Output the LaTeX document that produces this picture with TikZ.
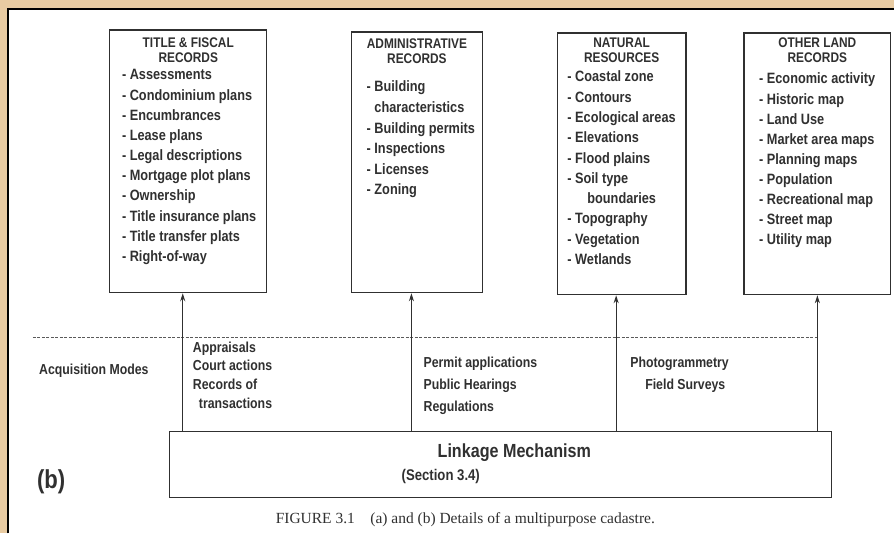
\documentclass[tikz,border=0pt]{standalone}
\usepackage{fontspec}
\setmainfont{Liberation Serif}
\newfontfamily\recfont[FakeStretch=0.85]{Liberation Sans}
\usetikzlibrary{positioning, arrows.meta}
\definecolor{paper}{HTML}{E8CBA2}
\definecolor{ink}{HTML}{303030}

\begin{document}
\begin{tikzpicture}[x=1pt, y=-1pt,
                recbox/.style={draw=ink, line width=1.3pt, inner sep=0pt},
                head/.style={font=\recfont\bfseries\fontsize{14}{15.5}\selectfont, align=center, text=ink, inner sep=0pt},
                items/.style={font=\recfont\bfseries\fontsize{15}{#1}\selectfont, align=left, text=ink, inner sep=0pt, anchor=north west},
                acq/.style={font=\recfont\bfseries\fontsize{14.5}{#1}\selectfont, align=left, text=ink, inner sep=0pt, anchor=north west},
                flow/.style={-{Stealth[length=8pt, width=5pt]}, draw=ink, line width=1.2pt},
            ]

            % Page and frame
            \fill[paper] (0,0) rectangle (895,534);
            \fill[white] (8,9) rectangle (895,534);
            \draw[line width=2.5pt] (8,534) -- (8,9) -- (895,9);

            % Record boxes
            \node[recbox, minimum width=157pt, minimum height=263pt] (title) at (188.5,161.5) {};
            \node[recbox, minimum width=131pt, minimum height=261pt] (admin) at (417.5,162.5) {};
            \node[recbox, minimum width=129pt, minimum height=262pt] (natural) at (622.5,164) {};
            \node[recbox, minimum width=147pt, minimum height=262pt] (other) at (818.5,164) {};

            % Box headings
            \node[head, below=8pt of title.north] (titlehead) {TITLE \& FISCAL\\RECORDS};
            \node[head, below=7pt of admin.north] (adminhead) {ADMINISTRATIVE\\RECORDS};
            \node[head, below=5pt of natural.north] (naturalhead) {NATURAL\\RESOURCES};
            \node[head, below=5pt of other.north] (otherhead) {OTHER LAND\\RECORDS};

            % Box contents
            \node[items=20.2pt] (titlelist) at (122,69.5) {- Assessments\\- Condominium plans\\- Encumbrances\\- Lease plans\\- Legal descriptions\\- Mortgage plot plans\\- Ownership\\- Title insurance plans\\- Title transfer plats\\- Right-of-way};
            \node[items=20.6pt] (adminlist) at (367,81) {- Building\\\phantom{- }characteristics\\- Building permits\\- Inspections\\- Licenses\\- Zoning};
            \node[items=20.3pt] (naturallist) at (568,71) {- Coastal zone\\- Contours\\- Ecological areas\\- Elevations\\- Flood plains\\- Soil type\\\hspace*{20pt}boundaries\\- Topography\\- Vegetation\\- Wetlands};
            \node[items=20.1pt] (otherlist) at (760,73) {- Economic activity\\- Historic map\\- Land Use\\- Market area maps\\- Planning maps\\- Population\\- Recreational map\\- Street map\\- Utility map};

            % Linkage mechanism
            \node[recbox, minimum width=663pt, minimum height=66pt] (link) at (501.5,465) {};
            \node[font=\recfont\bfseries\fontsize{19}{22}\selectfont, text=ink, anchor=base, inner sep=0pt] (linkname) at (515,458) {Linkage Mechanism};
            \node[font=\recfont\bfseries\fontsize{15.5}{17}\selectfont, text=ink, anchor=base west, inner sep=0pt] (linksec) at (402,481) {(Section 3.4)};

            % Acquisition modes
            \draw[ink!80, line width=0.8pt, dash pattern=on 3pt off 1.5pt] (33,338) -- (820,338);
            \node[acq=16pt, anchor=base west] (acqmodes) at (39,375) {Acquisition Modes};
            \node[acq=18.7pt] (fiscalmodes) at (193,342) {Appraisals\\Court actions\\Records of\\\hspace*{6pt}transactions};
            \node[acq=22pt] (adminmodes) at (424,357) {Permit applications\\Public Hearings\\Regulations};
            \node[acq=22pt] (naturalmodes) at (631,357) {Photogrammetry\\\hspace*{15pt}Field Surveys};

            % Links up to the records
            \draw[flow] ([xshift=-5.5pt]title.south |- link.north) -- ([xshift=-5.5pt]title.south);
            \draw[flow] ([xshift=-5.5pt]admin.south |- link.north) -- ([xshift=-5.5pt]admin.south);
            \draw[flow] ([xshift=-5.5pt]natural.south |- link.north) -- ([xshift=-5.5pt]natural.south);
            \draw[flow] (other.south |- link.north) -- (other.south);

            % Part label and caption
            \node[font=\recfont\bfseries\fontsize{26}{28}\selectfont, text=ink, anchor=base west, inner sep=0pt] (part) at (37,489) {(b)};
            \node[font=\fontsize{15.5}{17}\selectfont, text=ink, anchor=base, inner sep=0pt] (caption) at (466,524) {FIGURE 3.1\quad (a) and (b) Details of a multipurpose cadastre.};

\end{tikzpicture}
\end{document}
